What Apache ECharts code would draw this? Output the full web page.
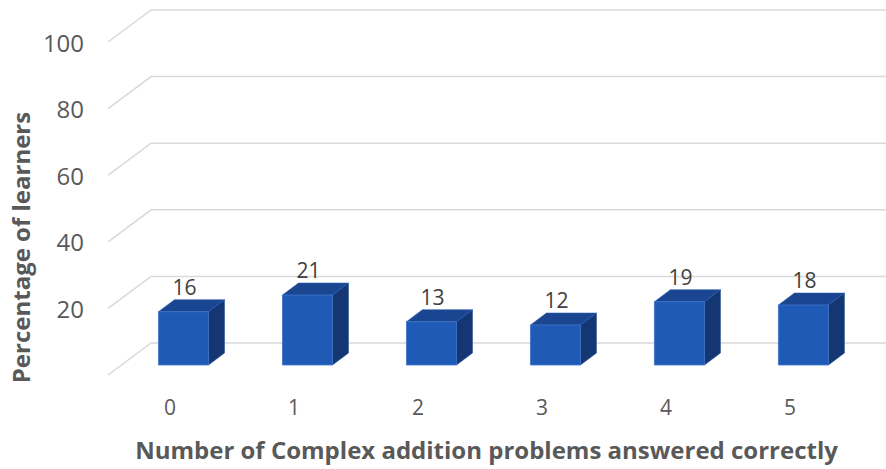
<!DOCTYPE html>
<html>
<head>
<meta charset="utf-8">
<script src="https://cdn.jsdelivr.net/npm/echarts@6/dist/echarts.min.js"></script>
<style>
  html, body { margin: 0; padding: 0; background: #ffffff; }
  #chart { width: 886px; height: 469px; }
</style>
</head>
<body>
<div id="chart"></div>
<script>
// Share of learners by number of complex addition problems solved
const categories = ['0', '1', '2', '3', '4', '5'];
const percentages = [16, 21, 13, 12, 19, 18];
const valueTicks = [0, 20, 40, 60, 80, 100];

// Pseudo-3D geometry (pixels)
const WALL_DX = 43, WALL_DY = 32;         // front edge to back wall
const BAR_OFF_DX = 13.4, BAR_OFF_DY = 10; // front edge to bar front face
const BAR_DX = 16, BAR_DY = 12;           // bar depth
const BAR_W = 50;

const FONT = '"Open Sans", "Noto Sans", sans-serif';

const chart = echarts.init(document.getElementById('chart'), null, { renderer: 'svg' });

function renderWall(params, api) {
  const v = api.value(0);
  const cs = params.coordSys;
  const y = api.coord([0, v])[1];
  const x0 = cs.x;
  return {
    type: 'polyline',
    shape: {
      points: [[x0, y], [x0 + WALL_DX, y - WALL_DY], [cs.x + cs.width + 200, y - WALL_DY]]
    },
    style: { stroke: '#D9D9D9', lineWidth: 1.5, fill: null },
    silent: true
  };
}

function renderBar(params, api) {
  const idx = api.value(0);
  const v = api.value(1);
  const base = api.coord([idx, 0]);
  const topY = api.coord([idx, v])[1];
  const cx = base[0] + BAR_OFF_DX;
  const fl = cx - BAR_W / 2, fr = cx + BAR_W / 2;
  const fb = base[1] - BAR_OFF_DY;
  const ft = topY - BAR_OFF_DY;
  return {
    type: 'group',
    children: [
      {
        type: 'polygon',
        shape: { points: [[fr, ft], [fr + BAR_DX, ft - BAR_DY], [fr + BAR_DX, fb - BAR_DY], [fr, fb]] },
        style: { fill: '#143774', stroke: '#1E4C96', lineWidth: 0.6 }
      },
      {
        type: 'polygon',
        shape: { points: [[fl, ft], [fr, ft], [fr + BAR_DX, ft - BAR_DY], [fl + BAR_DX, ft - BAR_DY]] },
        style: { fill: '#1A4590', stroke: '#2A5DB0', lineWidth: 0.6 }
      },
      {
        type: 'rect',
        shape: { x: fl, y: ft, width: BAR_W, height: fb - ft },
        style: { fill: '#1F5BB6', stroke: '#3D74C8', lineWidth: 0.8 }
      },
      {
        type: 'text',
        style: {
          text: String(v),
          x: cx + 1,
          y: ft - BAR_DY - 13,
          align: 'center',
          verticalAlign: 'middle',
          fill: '#404040',
          font: '21px ' + FONT
        }
      }
    ]
  };
}

chart.setOption({
  backgroundColor: '#ffffff',
  animation: false,
  grid: { left: 107, right: 34, top: 42, bottom: 94 },
  xAxis: {
    type: 'category',
    data: categories,
    axisLine: { show: false },
    axisTick: { show: false },
    axisLabel: { color: '#595959', fontSize: 21, fontFamily: FONT, margin: 21 },
    name: 'Number of Complex addition problems answered correctly',
    nameLocation: 'middle',
    nameGap: 62,
    nameTextStyle: { color: '#595959', fontSize: 24, fontWeight: 'bold', fontFamily: FONT, padding: [0, 0, 0, 13] }
  },
  yAxis: {
    type: 'value',
    min: 0,
    max: 100,
    interval: 20,
    splitLine: { show: false },
    axisLine: { show: false },
    axisTick: { show: false },
    axisLabel: {
      color: '#595959', fontSize: 24, fontFamily: FONT, margin: 24,
      formatter: function (val) { return val === 0 ? '' : String(val); }
    },
    name: 'Percentage of learners',
    nameLocation: 'middle',
    nameGap: 74,
    nameTextStyle: { color: '#595959', fontSize: 24, fontWeight: 'bold', fontFamily: FONT, padding: [0, 78, 0, 0] }
  },
  series: [
    {
      type: 'custom',
      renderItem: renderWall,
      data: valueTicks.map(function (t) { return [t]; }),
      encode: { y: 0 },
      clip: false,
      silent: true,
      z: 1
    },
    {
      type: 'custom',
      renderItem: renderBar,
      data: percentages.map(function (p, i) { return [i, p]; }),
      encode: { x: 0, y: 1 },
      clip: false,
      z: 2
    }
  ]
});
</script>
</body>
</html>
